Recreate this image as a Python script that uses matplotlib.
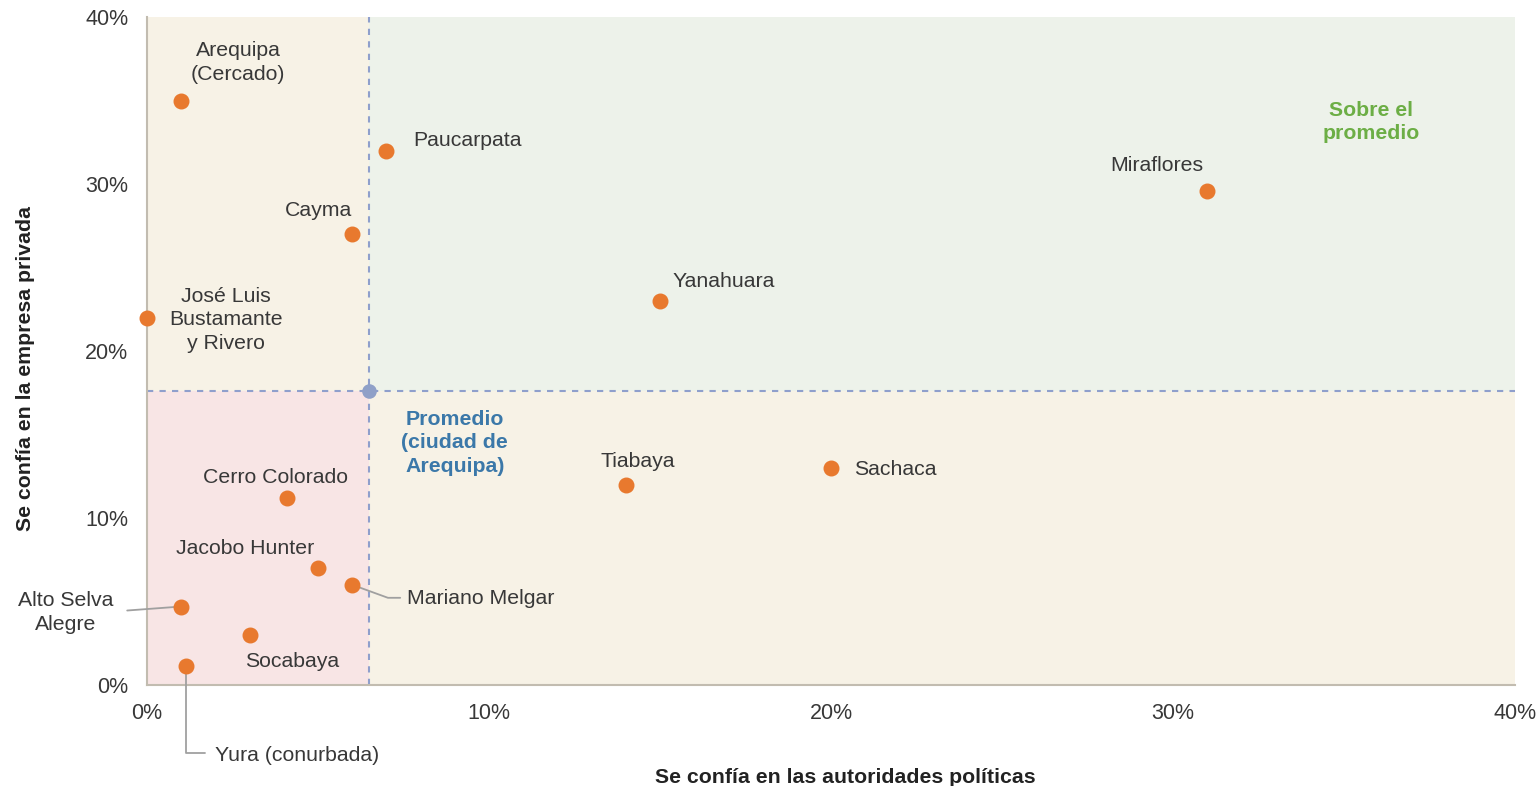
import numpy as np
import matplotlib
matplotlib.use('agg')
import matplotlib.pyplot as plt
from matplotlib.ticker import FuncFormatter

plt.rcParams['font.family'] = ['Liberation Sans', 'DejaVu Sans']

# data: % que confía en autoridades políticas (x) y en la empresa privada (y)
distritos = ['Arequipa\n(Cercado)', 'Paucarpata', 'Cayma', 'José Luis\nBustamante\ny Rivero',
             'Yanahuara', 'Miraflores', 'Tiabaya', 'Sachaca', 'Cerro Colorado',
             'Jacobo Hunter', 'Mariano Melgar', 'Alto Selva\nAlegre', 'Socabaya', 'Yura (conurbada)']
conf_autoridades = [1.0, 7.0, 6.0, 0.0, 15.0, 31.0, 14.0, 20.0, 4.1, 5.0, 6.0, 1.0, 3.0, 1.15]
conf_empresa = [35.0, 32.0, 27.0, 22.0, 23.0, 29.6, 12.0, 13.0, 11.2, 7.0, 6.0, 4.7, 3.0, 1.15]
prom_x = 6.5
prom_y = 17.6

# label offsets in pixels (dx, dy) and alignment
label_pos = {
    'Arequipa\n(Cercado)': (57, 38, 'center'),
    'Paucarpata': (27, 10, 'left'),
    'Cayma': (-34, 24, 'center'),
    'José Luis\nBustamante\ny Rivero': (79, -2, 'center'),
    'Yanahuara': (64, 19, 'center'),
    'Miraflores': (-50, 25, 'center'),
    'Tiabaya': (12, 23, 'center'),
    'Sachaca': (23, -2, 'left'),
    'Cerro Colorado': (-12, 20, 'center'),
    'Jacobo Hunter': (-73, 20, 'center'),
    'Mariano Melgar': (55, -14, 'left'),
    'Alto Selva\nAlegre': (-116, -6, 'center'),
    'Socabaya': (43, -27, 'center'),
    'Yura (conurbada)': (29, -90, 'left'),
}

fs = 15.3
txtcol = '#383838'

fig = plt.figure(figsize=(15.38, 7.86), dpi=100)
ax = fig.add_axes([147/1538, 1-685/786, (1515-147)/1538, (685-17)/786])

ax.set_xlim(0, 40)
ax.set_ylim(0, 40)

# quadrant backgrounds
ax.fill_between([0, prom_x], prom_y, 40, color='#f7f2e6', lw=0, zorder=0)
ax.fill_between([prom_x, 40], prom_y, 40, color='#edf2ea', lw=0, zorder=0)
ax.fill_between([0, prom_x], 0, prom_y, color='#f8e5e5', lw=0, zorder=0)
ax.fill_between([prom_x, 40], 0, prom_y, color='#f7f2e6', lw=0, zorder=0)

ax.axvline(prom_x, color='#8f9fcc', ls=(0, (3, 3)), lw=1.5, zorder=1)
ax.axhline(prom_y, color='#8f9fcc', ls=(0, (3, 3)), lw=1.5, zorder=1)
ax.scatter([prom_x], [prom_y], s=90, color='#8fa0c8', zorder=3)

ax.scatter(conf_autoridades, conf_empresa, s=110, color='#e8792e', zorder=4, clip_on=False)

for name, xv, yv in zip(distritos, conf_autoridades, conf_empresa):
    dx, dy, ha = label_pos[name]
    ax.annotate(name, (xv, yv), xytext=(dx, dy), textcoords='offset pixels',
                ha=ha, va='center', fontsize=fs, color=txtcol, zorder=5,
                linespacing=1.3)

# leader lines
ax.annotate('', (1.0, 4.7), xytext=(-54, -4), textcoords='offset pixels',
            arrowprops=dict(arrowstyle='-', color='#a0a0a0', lw=1.3, shrinkA=0, shrinkB=0))
ax.annotate('', (6.0, 6.0), xytext=(48, -13), textcoords='offset pixels',
            arrowprops=dict(arrowstyle='-', color='#a0a0a0', lw=1.3, shrinkA=0, shrinkB=0,
                            connectionstyle='angle,angleA=0,angleB=-20,rad=0'))
ax.annotate('', (1.15, 1.15), xytext=(19, -87), textcoords='offset pixels',
            arrowprops=dict(arrowstyle='-', color='#a0a0a0', lw=1.3, shrinkA=0, shrinkB=0,
                            connectionstyle='angle,angleA=0,angleB=90,rad=0'), annotation_clip=False)

ax.text(9.0, 14.5, 'Promedio\n(ciudad de\nArequipa)', ha='center', va='center',
        fontsize=fs, fontweight='bold', color='#3b78a9', linespacing=1.3)
ax.text(35.8, 33.7, 'Sobre el\npromedio', ha='center', va='center',
        fontsize=fs, fontweight='bold', color='#6cae45', linespacing=1.3)

ax.set_xticks(np.arange(0, 41, 10))
ax.set_yticks(np.arange(0, 41, 10))
pct = FuncFormatter(lambda v, p: '%d%%' % v)
ax.xaxis.set_major_formatter(pct)
ax.yaxis.set_major_formatter(pct)
ax.tick_params(length=0, labelsize=15.5, colors=txtcol)
ax.tick_params(axis='y', pad=13.5)
ax.tick_params(axis='x', pad=13)

for s in ['top', 'right']:
    ax.spines[s].set_visible(False)
for s in ['left', 'bottom']:
    ax.spines[s].set_color('#c2bcb0')
    ax.spines[s].set_linewidth(1.5)

ax.set_xlabel('Se confía en las autoridades políticas', fontsize=fs, fontweight='bold',
              color='#222222')
ax.set_ylabel('Se confía en la empresa privada', fontsize=fs, fontweight='bold',
              color='#222222')
ax.xaxis.set_label_coords(0.5105, -0.124)
ax.yaxis.set_label_coords(-0.082, 0.474)

fig.savefig('out.png', dpi=100)
